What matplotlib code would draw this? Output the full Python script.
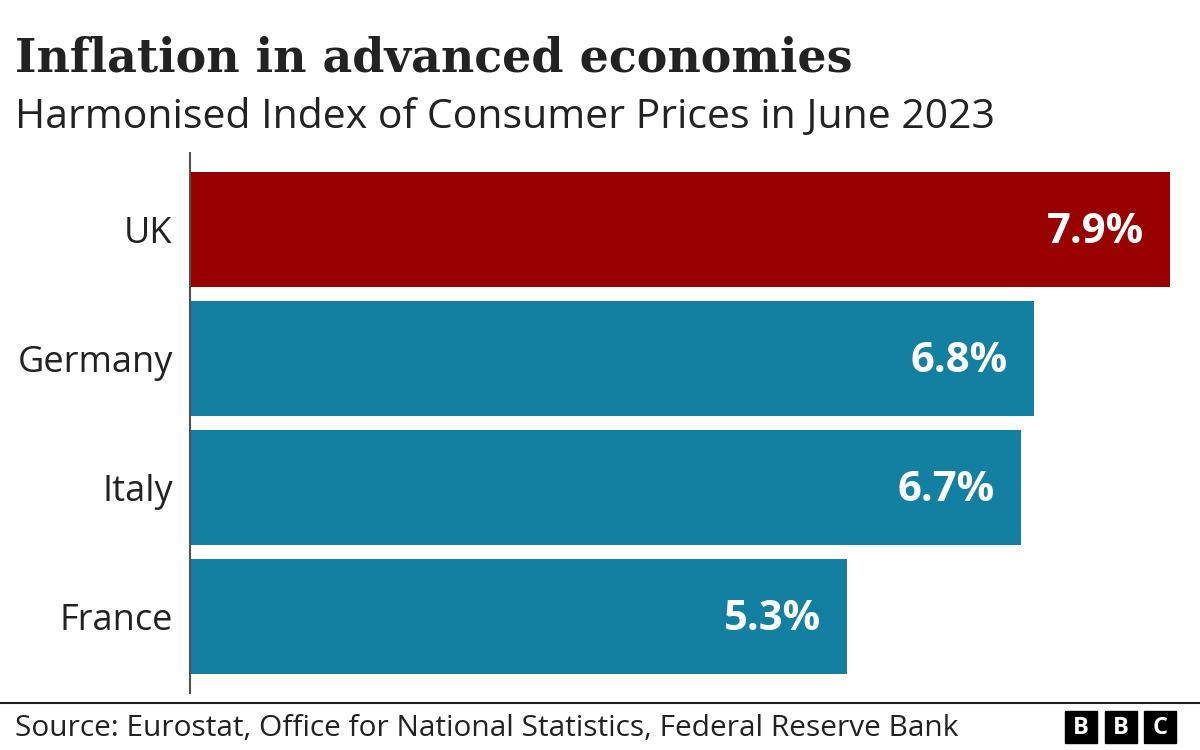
#!/usr/bin/env python3

import matplotlib
matplotlib.use('Agg')
import matplotlib.pyplot as plt
from matplotlib.patches import Rectangle

# data
countries = ['UK', 'Germany', 'Italy', 'France']
inflation = [7.9, 6.8, 6.7, 5.3]
bar_colours = ['#990000', '#1380a1', '#1380a1', '#1380a1']

title = 'Inflation in advanced economies'
subtitle = 'Harmonised Index of Consumer Prices in June 2023'
source = 'Source: Eurostat, Office for National Statistics, Federal Reserve Bank'

W, H = 1200, 750
fig = plt.figure(figsize=(12, 7.5), dpi=100)

def px(x, y):
    # pixel position (from top-left) -> figure fraction
    return x / W, 1 - y / H

# axes: x from 190 to 1170 px, y from 153 to 693 px
left, top = px(190, 153)
right, bottom = px(1170, 693)
ax = fig.add_axes([left, bottom, right - left, top - bottom])

ypos = list(range(len(countries)))
ax.barh(ypos, inflation, height=0.89, color=bar_colours, zorder=2)
ax.set_xlim(0, 7.9)
ax.set_ylim(3.595, -0.595)

for sp in ['top', 'right', 'bottom']:
    ax.spines[sp].set_visible(False)
ax.spines['left'].set_color('#505050')
ax.spines['left'].set_linewidth(1.5)
ax.spines['left'].set_zorder(3)
ax.set_xticks([])
ax.set_yticks(ypos)
ax.set_yticklabels(countries, fontsize=26, color='#222222', family='Open Sans')
ax.tick_params(axis='y', length=0, pad=12.5)

for y, v in zip(ypos, inflation):
    ax.text(v - 0.21, y + 0.025, '{0}%'.format(v), ha='right', va='center',
            color='white', fontsize=30, fontweight='bold', family='Open Sans')

# titles
fig.text(*px(15, 58), title, ha='left', va='center', fontsize=33,
         fontweight='bold', family='DejaVu Serif', color='#222222')
fig.text(*px(15, 118), subtitle, ha='left', va='center', fontsize=29.5,
         family='Open Sans', color='#222222')

# footer
fig.add_artist(plt.Line2D([0, 1], [1 - 703 / H] * 2, color='#222222', lw=1.5,
                          transform=fig.transFigure))
fig.text(*px(15, 728), source, ha='left', va='center', fontsize=21.5,
         family='Open Sans', color='#222222')

# BBC blocks
for i, letter in enumerate('BBC'):
    x0 = 1065 + i * 39.5
    bx, by = px(x0, 743)
    fig.add_artist(Rectangle((bx, by), 32 / W, 32 / H, color='black',
                             transform=fig.transFigure))
    fig.text(*px(x0 + 16, 727.5), letter, ha='center', va='center',
             color='white', fontsize=17, fontweight='bold', family='Open Sans')

fig.savefig('out.png', dpi=100, facecolor='white')
